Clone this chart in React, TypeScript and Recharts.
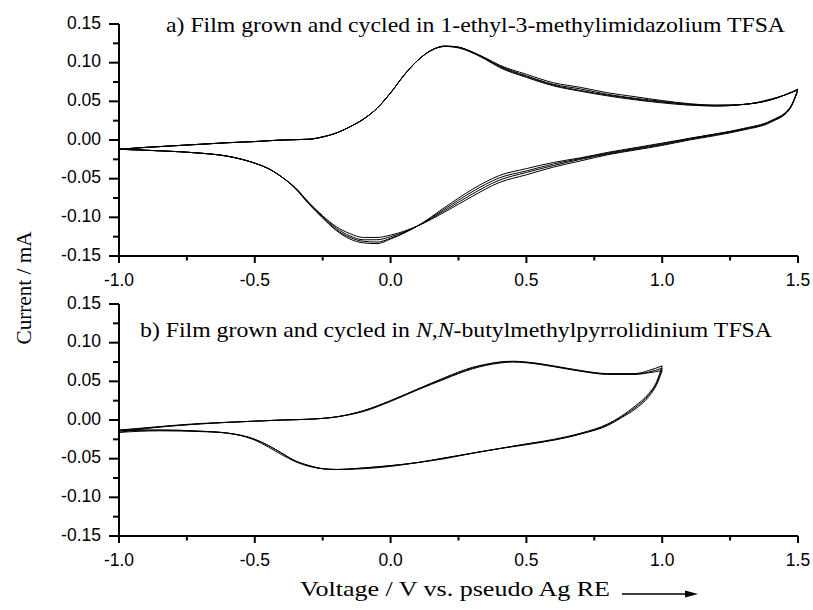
import React from 'react';
import { LineChart, Line, XAxis, YAxis } from 'recharts';

// Panel a) 1-ethyl-3-methylimidazolium TFSA, anodic sweep (-1.0 V -> 1.5 V)
const topAnodicV = [-1.0, -0.9, -0.8, -0.7, -0.6, -0.5, -0.4, -0.3, -0.25, -0.2, -0.15, -0.1, -0.05, 0.0, 0.05, 0.1, 0.15, 0.2, 0.25, 0.3, 0.35, 0.4, 0.5, 0.6, 0.7, 0.8, 0.9, 1.0, 1.1, 1.2, 1.3, 1.4, 1.45, 1.5];
const topAnodic1 = [-0.012, -0.0095, -0.0075, -0.0055, -0.0035, -0.002, 0.0, 0.001, 0.004, 0.009, 0.017, 0.027, 0.041, 0.061, 0.084, 0.103, 0.116, 0.1215, 0.12, 0.114, 0.106, 0.097, 0.085, 0.074, 0.068, 0.061, 0.056, 0.051, 0.047, 0.045, 0.046, 0.053, 0.058, 0.065];
const topAnodic2 = [-0.012, -0.0095, -0.0075, -0.0055, -0.0035, -0.002, 0.0, 0.001, 0.004, 0.009, 0.017, 0.027, 0.041, 0.061, 0.084, 0.103, 0.116, 0.1215, 0.12, 0.114, 0.105, 0.096, 0.083, 0.072, 0.066, 0.059, 0.054, 0.05, 0.046, 0.045, 0.046, 0.052, 0.058, 0.065];
const topAnodic3 = [-0.012, -0.0095, -0.0075, -0.0055, -0.0035, -0.002, 0.0, 0.001, 0.004, 0.009, 0.017, 0.027, 0.041, 0.061, 0.084, 0.103, 0.116, 0.121, 0.12, 0.113, 0.105, 0.095, 0.082, 0.071, 0.064, 0.058, 0.053, 0.049, 0.046, 0.044, 0.046, 0.052, 0.058, 0.065];
const topAnodic4 = [-0.012, -0.0095, -0.0075, -0.0055, -0.0035, -0.002, 0.0, 0.001, 0.004, 0.009, 0.017, 0.027, 0.041, 0.061, 0.084, 0.103, 0.116, 0.121, 0.119, 0.113, 0.104, 0.094, 0.081, 0.07, 0.063, 0.057, 0.052, 0.048, 0.045, 0.044, 0.046, 0.052, 0.058, 0.066];

// Panel a) cathodic sweep (1.5 V -> -1.0 V)
const topCathodicV = [1.5, 1.47, 1.4, 1.3, 1.2, 1.1, 1.0, 0.9, 0.8, 0.7, 0.6, 0.5, 0.4, 0.3, 0.2, 0.1, 0.0, -0.05, -0.1, -0.15, -0.2, -0.25, -0.3, -0.35, -0.4, -0.45, -0.5, -0.6, -0.7, -0.85, -1.0];
const topCathodic1 = [0.065, 0.04, 0.023, 0.013, 0.006, 0.0, -0.007, -0.013, -0.019, -0.027, -0.035, -0.045, -0.055, -0.073, -0.093, -0.111, -0.123, -0.126, -0.126, -0.121, -0.112, -0.098, -0.081, -0.062, -0.048, -0.037, -0.03, -0.021, -0.017, -0.014, -0.012];
const topCathodic2 = [0.065, 0.041, 0.024, 0.014, 0.007, 0.001, -0.006, -0.012, -0.018, -0.025, -0.033, -0.042, -0.052, -0.07, -0.091, -0.111, -0.125, -0.129, -0.129, -0.124, -0.114, -0.099, -0.082, -0.062, -0.048, -0.037, -0.03, -0.021, -0.017, -0.014, -0.012];
const topCathodic3 = [0.065, 0.041, 0.024, 0.014, 0.008, 0.002, -0.005, -0.011, -0.017, -0.024, -0.031, -0.04, -0.049, -0.067, -0.089, -0.111, -0.127, -0.132, -0.131, -0.126, -0.116, -0.1, -0.083, -0.063, -0.048, -0.037, -0.03, -0.021, -0.017, -0.014, -0.012];
const topCathodic4 = [0.066, 0.042, 0.025, 0.015, 0.008, 0.002, -0.004, -0.01, -0.016, -0.023, -0.029, -0.037, -0.046, -0.064, -0.087, -0.111, -0.128, -0.134, -0.133, -0.128, -0.117, -0.101, -0.083, -0.063, -0.048, -0.037, -0.03, -0.021, -0.017, -0.014, -0.012];

// Panel b) N,N-butylmethylpyrrolidinium TFSA, anodic sweep (-1.0 V -> 1.0 V)
const botAnodicV = [-1.0, -0.9, -0.8, -0.7, -0.6, -0.5, -0.4, -0.3, -0.2, -0.1, 0.0, 0.1, 0.2, 0.25, 0.3, 0.35, 0.4, 0.45, 0.5, 0.6, 0.7, 0.8, 0.9, 0.95, 1.0];
const botAnodic1 = [-0.013, -0.01, -0.007, -0.0045, -0.003, -0.0015, 0.0, 0.001, 0.004, 0.012, 0.025, 0.04, 0.054, 0.061, 0.067, 0.0715, 0.0745, 0.0755, 0.0745, 0.0695, 0.0635, 0.0595, 0.0595, 0.062, 0.067];
const botAnodic2 = [-0.014, -0.0105, -0.0075, -0.005, -0.003, -0.0015, 0.0, 0.001, 0.004, 0.012, 0.025, 0.04, 0.055, 0.062, 0.068, 0.072, 0.075, 0.076, 0.075, 0.07, 0.064, 0.06, 0.06, 0.064, 0.07];
const botAnodic3 = [-0.016, -0.011, -0.0075, -0.005, -0.003, -0.0015, 0.0, 0.001, 0.004, 0.011, 0.024, 0.039, 0.053, 0.06, 0.066, 0.0705, 0.0735, 0.075, 0.074, 0.069, 0.063, 0.059, 0.059, 0.061, 0.064];

// Panel b) cathodic sweep (1.0 V -> -1.0 V)
const botCathodicV = [1.0, 0.98, 0.95, 0.9, 0.85, 0.8, 0.7, 0.6, 0.5, 0.4, 0.3, 0.2, 0.1, 0.0, -0.1, -0.2, -0.25, -0.3, -0.35, -0.4, -0.45, -0.5, -0.6, -0.7, -0.85, -1.0];
const botCathodic1 = [0.067, 0.048, 0.032, 0.016, 0.004, -0.006, -0.018, -0.026, -0.031, -0.037, -0.043, -0.049, -0.055, -0.059, -0.062, -0.064, -0.063, -0.059, -0.053, -0.043, -0.033, -0.025, -0.017, -0.0145, -0.013, -0.013];
const botCathodic2 = [0.07, 0.05, 0.034, 0.018, 0.005, -0.005, -0.017, -0.025, -0.031, -0.037, -0.043, -0.049, -0.055, -0.059, -0.062, -0.064, -0.063, -0.06, -0.054, -0.045, -0.035, -0.026, -0.017, -0.0145, -0.013, -0.014];
const botCathodic3 = [0.064, 0.046, 0.03, 0.014, 0.003, -0.007, -0.018, -0.026, -0.032, -0.037, -0.043, -0.05, -0.055, -0.06, -0.063, -0.064, -0.063, -0.059, -0.053, -0.043, -0.033, -0.025, -0.017, -0.015, -0.014, -0.016];

// axis ticks
const xMajor = [-1.0, -0.5, 0.0, 0.5, 1.0, 1.5];
const xMinor = [-0.75, -0.25, 0.25, 0.75, 1.25];
const yMajor = [-0.15, -0.1, -0.05, 0.0, 0.05, 0.1, 0.15];
const yMinor = [-0.125, -0.075, -0.025, 0.025, 0.075, 0.125];

const xTicks = [...xMajor, ...xMinor].sort((a, b) => a - b);
const yTicks = [...yMajor, ...yMinor].sort((a, b) => a - b);
const isMajor = (list: number[], v: number) => list.some((t) => Math.abs(t - v) < 1e-6);

const toPoints = (vs: number[], is: number[]) => vs.map((v, k) => ({ v, i: is[k] }));

const topSeries = [
  toPoints(topAnodicV, topAnodic1), toPoints(topCathodicV, topCathodic1),
  toPoints(topAnodicV, topAnodic2), toPoints(topCathodicV, topCathodic2),
  toPoints(topAnodicV, topAnodic3), toPoints(topCathodicV, topCathodic3),
  toPoints(topAnodicV, topAnodic4), toPoints(topCathodicV, topCathodic4),
];
const botSeries = [
  toPoints(botAnodicV, botAnodic1), toPoints(botCathodicV, botCathodic1),
  toPoints(botAnodicV, botAnodic2), toPoints(botCathodicV, botCathodic2),
  toPoints(botAnodicV, botAnodic3), toPoints(botCathodicV, botCathodic3),
];

const sans = '"Liberation Sans", Arial, sans-serif';
const serif = '"Liberation Serif", "Times New Roman", serif';

const XTick = (props: any) => {
  const { x, y, payload } = props;
  const major = isMajor(xMajor, payload.value);
  return (
    <g>
      <line x1={x} y1={y} x2={x} y2={y + (major ? 7 : 4.5)} stroke="#000" strokeWidth={2} />
      {major && (
        <text x={x} y={y + 30} textAnchor="middle" fontFamily={sans} fontSize={17.5} fill="#000">
          {payload.value.toFixed(1)}
        </text>
      )}
    </g>
  );
};

const YTick = (props: any) => {
  const { x, y, payload } = props;
  const major = isMajor(yMajor, payload.value);
  return (
    <g>
      <line x1={x} y1={y} x2={x - (major ? 10 : 6)} y2={y} stroke="#000" strokeWidth={2} />
      {major && (
        <text x={x - 18} y={y + 4.5} textAnchor="end" fontFamily={sans} fontSize={17.5} fill="#000">
          {payload.value.toFixed(2)}
        </text>
      )}
    </g>
  );
};

const Panel = ({ series, top }: { series: { v: number; i: number }[][]; top: number }) => (
  <div style={{ position: 'absolute', left: 0, top }}>
    <LineChart width={813} height={290} margin={{ top: 24, right: 15, bottom: 4, left: 69 }}>
      <XAxis
        type="number"
        dataKey="v"
        domain={[-1, 1.5]}
        ticks={xTicks}
        interval={0}
        allowDataOverflow
        height={30}
        tickSize={0}
        tickMargin={0}
        tickLine={false}
        axisLine={{ stroke: '#000', strokeWidth: 2 }}
        tick={XTick}
      />
      <YAxis
        type="number"
        domain={[-0.15, 0.15]}
        ticks={yTicks}
        interval={0}
        allowDataOverflow
        width={50}
        tickSize={0}
        tickMargin={0}
        tickLine={false}
        axisLine={{ stroke: '#000', strokeWidth: 2 }}
        tick={YTick}
      />
      {series.map((d, k) => (
        <Line
          key={k}
          data={d}
          dataKey="i"
          type="monotone"
          stroke="#000"
          strokeWidth={1}
          dot={false}
          activeDot={false}
          isAnimationActive={false}
        />
      ))}
    </LineChart>
  </div>
);

const App: React.FC = () => (
  <div style={{ position: 'absolute', left: 0, top: 0, width: 813, height: 610, background: '#fff' }}>
    <Panel series={topSeries} top={0} />
    <Panel series={botSeries} top={280} />
    <svg width={813} height={610} style={{ position: 'absolute', left: 0, top: 0, pointerEvents: 'none' }}>
      <text x={166} y={32} fontFamily={serif} fontSize={21} fill="#000" textLength={619} lengthAdjust="spacingAndGlyphs">
        a) Film grown and cycled in 1-ethyl-3-methylimidazolium TFSA
      </text>
      <text x={140} y={337} fontFamily={serif} fontSize={21} fill="#000" textLength={632} lengthAdjust="spacingAndGlyphs">
        b) Film grown and cycled in <tspan fontStyle="italic">N,N</tspan>-butylmethylpyrrolidinium TFSA
      </text>
      <text
        transform="translate(31,288) rotate(-90)"
        textAnchor="middle"
        fontFamily={serif}
        fontSize={22}
        fill="#000"
        textLength={113}
        lengthAdjust="spacingAndGlyphs"
      >
        Current / mA
      </text>
      <text x={300} y={596} fontFamily={serif} fontSize={22} fill="#000" textLength={310} lengthAdjust="spacingAndGlyphs">
        Voltage / V vs. pseudo Ag RE
      </text>
      <line x1={622} y1={594} x2={688} y2={594} stroke="#000" strokeWidth={1.3} />
      <polygon points="685,590.5 698,594 685,597.5" fill="#000" />
    </svg>
  </div>
);

export default App;
